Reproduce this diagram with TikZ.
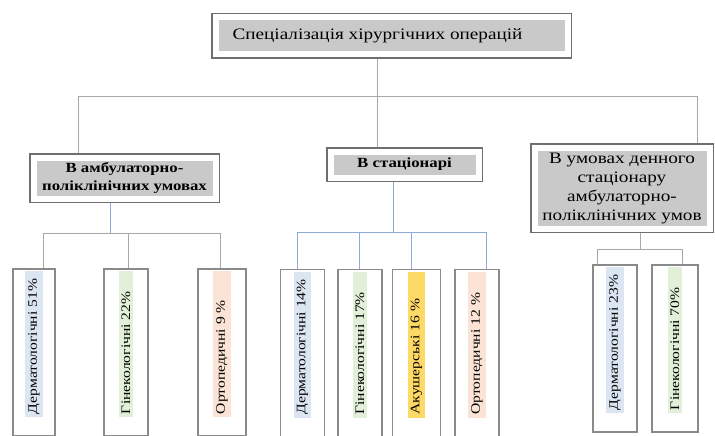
\documentclass[tikz,border=0pt]{standalone}
\usepackage{fontspec}
\setmainfont[FakeStretch=1.2]{Liberation Serif}
\usetikzlibrary{positioning}

\definecolor{boxgray}{HTML}{C9C9C9}
\definecolor{framegray}{HTML}{6F6F6F}
\definecolor{leafgray}{HTML}{8A8A8A}
\definecolor{conngray}{HTML}{A8A8A8}
\definecolor{connblue}{HTML}{8EAADB}
\definecolor{dermblue}{HTML}{DCE6F2}
\definecolor{gyngreen}{HTML}{E2EFD9}
\definecolor{orthorange}{HTML}{FBE4D5}
\definecolor{obstyellow}{HTML}{FFD966}

\newcommand{\striplen}[0]{140pt}
\newcommand{\leafstrip}[2]{\hspace*{17pt}\colorbox{#1}{\makebox[\striplen][l]{#2}}}
\setlength{\fboxsep}{3pt}

\tikzstyle{conn} = [draw=conngray,line width=0.8pt]
\tikzstyle{bconn} = [draw=connblue,line width=0.8pt]
\tikzstyle{framed}=[
  rectangle,
  align=center,
  anchor=center,
  inner sep=2pt,
  fill=boxgray,
  draw=white,
  line width=6pt,
  preaction={draw=framegray,line width=9pt},
  outer sep=4.5pt,
  font=\fontsize{16}{18}\selectfont,
]
\tikzstyle{leaf}=[
  rectangle,
  anchor=center,
  rotate=90,
  draw=leafgray,
  line width=1.2pt,
  fill=white,
  inner sep=1pt,
  minimum width=167pt,
  minimum height=44pt,
  font=\fontsize{13}{15}\selectfont,
]

\begin{document}
\begin{tikzpicture}[x=1pt,y=-1pt]
  \useasboundingbox (0,0) rectangle (715,436);

  \node[framed, minimum width=352pt, minimum height=37pt] (spec) at (391.5,36) {Спеціалізація хірургічних операцій\hspace*{28pt}};

  \node[framed, minimum width=182pt, minimum height=41pt, font=\fontsize{14}{18}\selectfont\bfseries] (amb) at (124.5,178) {В амбулаторно-\\поліклінічних умовах};
  \node[framed, minimum width=148pt, minimum height=26pt, font=\fontsize{14}{18}\selectfont\bfseries] (stat) at (404.5,164.5) {В стаціонарі};
  \node[framed, minimum width=175pt, minimum height=81pt, font=\fontsize{16}{19}\selectfont] (day) at (622,188) {В умовах денного\\стаціонару\\амбулаторно-\\поліклінічних умов};

  % first group
  \node[leaf, minimum height=42pt] (derm1) at (34,352.5) {\leafstrip{dermblue}{Дерматологічні 51\%}};
  \node[leaf] (gyn1) at (126,352.5) {\leafstrip{gyngreen}{Гінекологічні 22\%}};
  \node[leaf, minimum height=48pt] (orth1) at (222,352.5) {\leafstrip{orthorange}{Ортопедичні 9 \%}};

  % second group
  \node[leaf] (derm2) at (302.5,353) {\leafstrip{dermblue}{Дерматологічні 14\%}};
  \node[leaf] (gyn2) at (360,353) {\leafstrip{gyngreen}{Гінекологічні 17\%}};
  \node[leaf, minimum height=48pt] (obst2) at (416.5,353) {\leafstrip{obstyellow}{Акушерські 16 \%}};
  \node[leaf] (orth2) at (477,353) {\leafstrip{orthorange}{Ортопедичні 12 \%}};

  % third group
  \node[leaf] (derm3) at (615,348.5) {\leafstrip{dermblue}{Дерматологічні 23\%}};
  \node[leaf, minimum height=46pt] (gyn3) at (675,348.5) {\leafstrip{gyngreen}{Гінекологічні 70\%}};

  % top level
  \coordinate (hub) at (377,96);
  \draw[conn] (spec.south -| hub) -- (stat.north -| hub);
  \draw[conn] (hub) -| ([xshift=-46.5pt] amb.north);
  \draw[conn] (hub) -| ([xshift=75pt] day.north);

  % sub buses
  \draw[bconn] ([xshift=-14.5pt] amb.south) -- ++(0,30) coordinate (sub1);
  \draw[conn] (sub1) -| ([xshift=9pt] derm1.east);
  \draw[conn] (sub1) -| ([xshift=2pt] gyn1.east);
  \draw[conn] (sub1) -| ([xshift=-2pt] orth1.east);

  \draw[bconn] ([xshift=-11.5pt] stat.south) -- ++(0,50) coordinate (sub2);
  \draw[bconn] (sub2) -| ([xshift=-5.5pt] derm2.east);
  \draw[bconn] (sub2) -| ([xshift=-1pt] gyn2.east);
  \draw[bconn] (sub2) -| ([xshift=-5.5pt] obst2.east);
  \draw[bconn] (sub2) -| ([xshift=9pt] orth2.east);

  \draw[conn] ([xshift=18pt] day.south) -- ++(0,16) coordinate (sub3);
  \draw[conn] (sub3) -| ([xshift=-18pt] derm3.east);
  \draw[conn] (sub3) -| ([xshift=7pt] gyn3.east);
\end{tikzpicture}
\end{document}
